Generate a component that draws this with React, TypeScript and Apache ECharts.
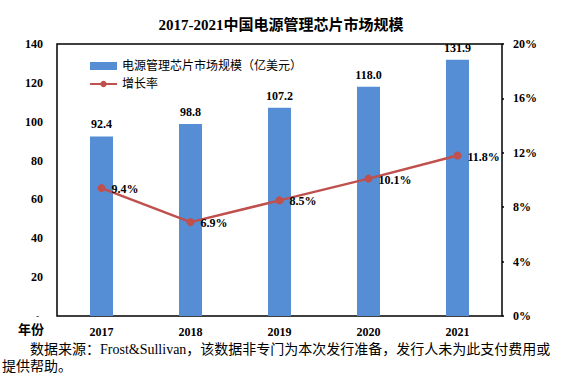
import React, { useEffect, useRef } from "react";
import * as echarts from "echarts";

const years = ["2017", "2018", "2019", "2020", "2021"];
const marketSize = [92.4, 98.8, 107.2, 118.0, 131.9];
const growthRate = [9.4, 6.9, 8.5, 10.1, 11.8];
const titleText = "2017-2021中国电源管理芯片市场规模";
const barName = "电源管理芯片市场规模（亿美元）";
const lineName = "增长率";
const noteLine1 = "数据来源：Frost&Sullivan，该数据非专门为本次发行准备，发行人未为此支付费用或";
const noteLine2 = "提供帮助。";

const SERIF = "'Liberation Serif', 'DejaVu Serif', 'Noto Sans CJK SC', serif";

export default function App() {
  const ref = useRef<HTMLDivElement>(null);
  useEffect(() => {
    if (!ref.current) return;
    const chart = echarts.init(ref.current, null, { renderer: "svg" });
    chart.setOption({
      animation: false,
      backgroundColor: "#ffffff",
      title: {
        text: titleText,
        left: "center",
        top: 12,
        textStyle: { fontFamily: SERIF, fontSize: 15, fontWeight: "bold", color: "#000" },
      },
      legend: {
        orient: "vertical",
        left: 84,
        top: 55,
        itemGap: 6,
        itemWidth: 27,
        itemHeight: 8,
        textStyle: { fontFamily: SERIF, fontSize: 12, color: "#000" },
        data: [
          { name: barName, icon: "rect" },
          { name: lineName },
        ],
      },
      grid: {
        left: 57,
        right: 60,
        top: 44,
        bottom: 64,
        show: true,
        borderColor: "#000",
        borderWidth: 1.5,
        containLabel: false,
      },
      xAxis: {
        type: "category",
        data: years,
        axisLine: { show: false },
        axisTick: { show: false },
        axisLabel: { fontFamily: SERIF, fontWeight: "bold", fontSize: 12, color: "#000", margin: 10 },
      },
      yAxis: [
        {
          type: "value",
          min: 0,
          max: 140,
          interval: 20,
          splitLine: { show: false },
          axisLine: { show: false },
          axisTick: { show: false },
          axisLabel: {
            fontFamily: SERIF,
            fontWeight: "bold",
            fontSize: 12,
            color: "#000",
            margin: 14,
            formatter: (v: number) => (v === 0 ? "{d|-}" : String(v)),
            rich: {
              d: { fontFamily: SERIF, fontSize: 8, lineHeight: 6, color: "#000", padding: [0, 4, 0, 0] },
            },
          },
        },
        {
          type: "value",
          min: 0,
          max: 20,
          interval: 4,
          splitLine: { show: false },
          axisLine: { show: false },
          axisTick: { show: true, length: 2, lineStyle: { color: "#000", width: 1.5 } },
          axisLabel: {
            fontFamily: SERIF,
            fontWeight: "bold",
            fontSize: 12,
            color: "#000",
            margin: 11,
            formatter: (v: number) => v + "%",
          },
        },
      ],
      series: [
        {
          name: barName,
          type: "bar",
          data: marketSize,
          barWidth: 23,
          itemStyle: { color: "#558ed5" },
          label: {
            show: true,
            position: "top",
            distance: 6,
            fontFamily: SERIF,
            fontWeight: "bold",
            fontSize: 12,
            color: "#000",
            formatter: (p: any) => Number(p.value).toFixed(1),
          },
        },
        {
          name: lineName,
          type: "line",
          yAxisIndex: 1,
          data: growthRate,
          symbol: "circle",
          symbolSize: 8,
          lineStyle: { color: "#c0504d", width: 2.5 },
          itemStyle: { color: "#c0504d" },
          label: {
            show: true,
            position: "right",
            distance: 6,
            offset: [0, 1],
            fontFamily: SERIF,
            fontWeight: "bold",
            fontSize: 12,
            color: "#000",
            formatter: (p: any) => Number(p.value).toFixed(1) + "%",
          },
        },
      ],
      graphic: [
        {
          type: "text",
          left: 18,
          top: 323,
          style: { text: "年份", fontFamily: SERIF, fontWeight: "bold", fontSize: 13, fill: "#000" },
        },
        {
          type: "text",
          left: 30,
          top: 342,
          style: { text: noteLine1, fontFamily: SERIF, fontSize: 14, fill: "#000" },
        },
        {
          type: "text",
          left: 2,
          top: 359,
          style: { text: noteLine2, fontFamily: SERIF, fontSize: 14, fill: "#000" },
        },
      ],
    });
    return () => chart.dispose();
  }, []);
  return (
    <div
      ref={ref}
      style={{ position: "fixed", left: 0, top: 0, width: 562, height: 380 }}
    />
  );
}
